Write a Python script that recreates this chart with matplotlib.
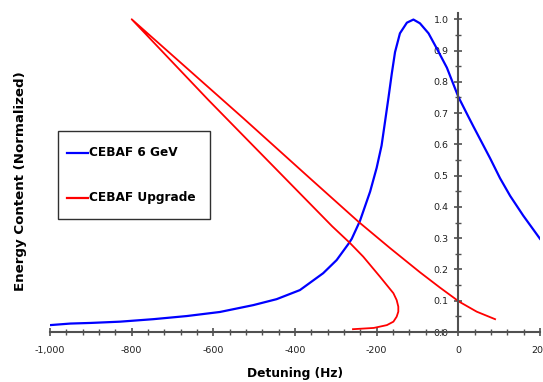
import matplotlib
matplotlib.use("Agg")
import matplotlib.pyplot as plt
from matplotlib.ticker import MultipleLocator, FixedLocator, FixedFormatter
from matplotlib.patches import Rectangle
from matplotlib.lines import Line2D

# ---- data ----
blue_x = [-1000, -950, -900, -829, -747, -665, -584, -502, -445, -388, -331, -298,
          -269, -261, -241, -216, -200, -188, -180, -171, -163, -155, -143, -126,
          -110, -94, -73, -53, -28, 0, 24, 37, 78, 102, 127, 159, 200]
blue_y = [0.022, 0.027, 0.029, 0.033, 0.041, 0.051, 0.064, 0.086, 0.105, 0.134, 0.188, 0.230,
          0.282, 0.298, 0.355, 0.449, 0.525, 0.596, 0.668, 0.750, 0.826, 0.895, 0.955, 0.989,
          0.999, 0.987, 0.955, 0.907, 0.845, 0.752, 0.690, 0.657, 0.555, 0.492, 0.435, 0.372, 0.298]

red_x = [-258, -207, -175, -159, -151, -147, -147, -151, -159, -192, -233, -265, -309,
         -529, -613, -800,
         -527, -363, -245, -167, -94, -69, -45, 2, 45, 90]
red_y = [0.009, 0.013, 0.022, 0.033, 0.049, 0.065, 0.081, 0.102, 0.124, 0.177, 0.241, 0.284, 0.338,
         0.631, 0.743, 1.0,
         0.684, 0.491, 0.353, 0.268, 0.191, 0.166, 0.142, 0.097, 0.065, 0.041]

series_labels = ["CEBAF 6 GeV", "CEBAF Upgrade"]
x_ticks = [-1000, -800, -600, -400, -200, 0, 200]
x_tick_labels = ["-1,000", "-800", "-600", "-400", "-200", "0", "200"]
y_ticks = [0.0, 0.1, 0.2, 0.3, 0.4, 0.5, 0.6, 0.7, 0.8, 0.9, 1.0]
y_tick_labels = ["0.0", "0.1", "0.2", "0.3", "0.4", "0.5", "0.6", "0.7", "0.8", "0.9", "1.0"]

W, H = 543, 382
fig = plt.figure(figsize=(W / 100, H / 100), dpi=100)
fig.patch.set_facecolor("white")
ax = fig.add_axes([50 / W, 50 / H, 490 / W, 318.7 / H])

ax.plot(blue_x, blue_y, color="#0000FF", lw=1.6, solid_joinstyle="round")
ax.plot(red_x, red_y, color="#FF0000", lw=1.3, solid_joinstyle="round")

ax.set_xlim(-1000, 200)
ax.set_ylim(0, 1.019)

for s in ["top", "right"]:
    ax.spines[s].set_visible(False)
ax.spines["left"].set_position(("data", 0))
ax.spines["bottom"].set_position(("data", 0))
for s in ["left", "bottom"]:
    ax.spines[s].set_color("#505050")
    ax.spines[s].set_linewidth(1.5)

ax.xaxis.set_major_locator(FixedLocator(x_ticks))
ax.xaxis.set_major_formatter(FixedFormatter(x_tick_labels))
ax.xaxis.set_minor_locator(MultipleLocator(40))
ax.yaxis.set_major_locator(FixedLocator(y_ticks))
ax.yaxis.set_major_formatter(FixedFormatter(y_tick_labels))
ax.yaxis.set_minor_locator(MultipleLocator(0.05))

ax.tick_params(axis="both", which="major", direction="inout", length=6, width=1.2,
               color="#505050", labelsize=6.8, labelcolor="#202020")
ax.tick_params(axis="both", which="minor", direction="inout", length=4, width=1.0,
               color="#505050")
ax.tick_params(axis="x", which="major", pad=7)
ax.tick_params(axis="y", which="major", pad=4)

fig.text(295 / W, 1 - 373 / H, "Detuning (Hz)", ha="center", va="center",
         fontsize=8.8, fontweight="bold", color="black")
fig.text(21 / W, 1 - 181 / H, "Energy Content (Normalized)", ha="center", va="center",
         rotation=90, fontsize=9.6, fontweight="bold", color="black")

# legend box
fig.patches.append(Rectangle((58.3 / W, 1 - 219 / H), (210 - 58.3) / W, (219 - 131) / H,
                             transform=fig.transFigure, facecolor="white",
                             edgecolor="#303030", lw=1.0, zorder=5))
for lab, col, yy in [(series_labels[0], "#0000FF", 152.5), (series_labels[1], "#FF0000", 197.5)]:
    fig.lines.append(Line2D([66.7 / W, 88.3 / W], [1 - yy / H, 1 - yy / H],
                            transform=fig.transFigure, color=col, lw=1.6, zorder=6))
    fig.text(89.3 / W, 1 - yy / H, lab, ha="left", va="center", fontsize=8.7,
             fontweight="bold", color="black", zorder=7)

fig.savefig("out.png", dpi=100)
